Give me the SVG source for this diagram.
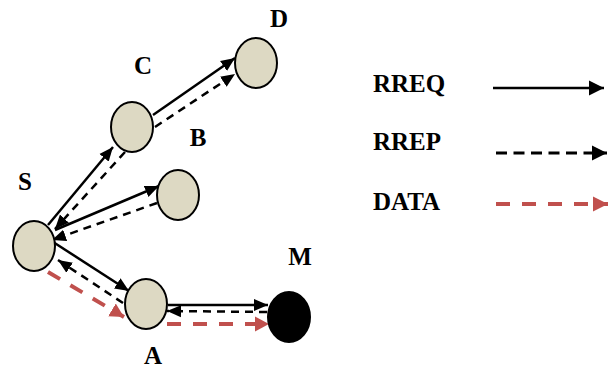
<svg xmlns="http://www.w3.org/2000/svg" width="611" height="368" viewBox="0 0 611 368">
<style>
.node{fill:#DDD9C3;stroke:#000;stroke-width:2}
.mal{fill:#000;stroke:#000;stroke-width:2}
.lbl{font-family:"Liberation Serif","Times New Roman",serif;font-weight:bold;font-size:25px;fill:#000}
.req{stroke:#000;stroke-width:2.5;fill:none}
.rep{stroke:#000;stroke-width:2.5;fill:none;stroke-dasharray:8 6}
.lrep{stroke:#000;stroke-width:3;fill:none;stroke-dasharray:11 6.5}
.dat{stroke:#C0504D;stroke-width:4;fill:none;stroke-dasharray:14 12}
</style>
<defs>
<marker id="ab" markerUnits="userSpaceOnUse" markerWidth="15" markerHeight="13" refX="14" refY="6" orient="auto" viewBox="0 0 15 12"><path d="M0,0L14,6L0,12z" fill="#000"/></marker>
<marker id="ar" markerUnits="userSpaceOnUse" markerWidth="16" markerHeight="16" refX="14" refY="7.5" orient="auto" viewBox="0 0 16 15"><path d="M0,0L14,7.5L0,15z" fill="#C0504D"/></marker>
<marker id="lb" markerUnits="userSpaceOnUse" markerWidth="16" markerHeight="16" refX="15" refY="7.5" orient="auto" viewBox="0 0 16 15"><path d="M0,0L15,7.5L0,15z" fill="#000"/></marker>
<marker id="lr" markerUnits="userSpaceOnUse" markerWidth="16" markerHeight="16" refX="15" refY="7.5" orient="auto" viewBox="0 0 16 15"><path d="M0,0L15,7.5L0,15z" fill="#C0504D"/></marker>
</defs>
<g id="connectors">
<line class="req" x1="48" y1="225" x2="113" y2="147" marker-end="url(#ab)"/>
<line class="rep" x1="125" y1="152" x2="55" y2="229" marker-end="url(#ab)"/>
<line class="req" x1="153" y1="115" x2="235" y2="58" marker-end="url(#ab)"/>
<line class="rep" x1="155" y1="127" x2="235" y2="74" marker-end="url(#ab)"/>
<line class="req" x1="55" y1="230" x2="159" y2="186" marker-end="url(#ab)"/>
<line class="rep" x1="157" y1="203" x2="52" y2="240" marker-end="url(#ab)"/>
<line class="req" x1="50" y1="240" x2="129" y2="291" marker-end="url(#ab)"/>
<line class="rep" x1="123" y1="303" x2="58" y2="260" marker-end="url(#ab)"/>
<line class="dat" x1="48" y1="272" x2="124" y2="317" marker-end="url(#ar)"/>
<line class="req" x1="168" y1="305" x2="268" y2="305" marker-end="url(#ab)"/>
<line class="rep" x1="267" y1="312" x2="167" y2="311" marker-end="url(#ab)"/>
<line class="dat" x1="167" y1="324" x2="269" y2="324" marker-end="url(#ar)"/>
</g>
<g id="node-S"><ellipse class="node" cx="34" cy="246" rx="21" ry="25"/><text class="lbl" x="25" y="190" text-anchor="middle">S</text></g>
<g id="node-C"><ellipse class="node" cx="132" cy="127" rx="21" ry="25"/><text class="lbl" x="143" y="74" text-anchor="middle">C</text></g>
<g id="node-D"><ellipse class="node" cx="256" cy="63" rx="21" ry="25"/><text class="lbl" x="279" y="27" text-anchor="middle">D</text></g>
<g id="node-B"><ellipse class="node" cx="178" cy="195" rx="21" ry="25"/><text class="lbl" x="198" y="146" text-anchor="middle">B</text></g>
<g id="node-A"><ellipse class="node" cx="146" cy="304" rx="21" ry="25"/><text class="lbl" x="153" y="364" text-anchor="middle">A</text></g>
<g id="node-M"><ellipse class="mal" cx="289" cy="317" rx="21" ry="25"/><text class="lbl" x="300" y="265" text-anchor="middle">M</text></g>
<g id="legend">
<text class="lbl" x="373" y="92">RREQ</text>
<line class="req" x1="493" y1="88" x2="604" y2="88" marker-end="url(#lb)"/>
<text class="lbl" x="373" y="150">RREP</text>
<line class="lrep" x1="496" y1="153" x2="607" y2="153" marker-end="url(#lb)"/>
<text class="lbl" x="373" y="210">DATA</text>
<line class="dat" x1="496" y1="204" x2="608" y2="204" marker-end="url(#lr)"/>
</g>
</svg>
